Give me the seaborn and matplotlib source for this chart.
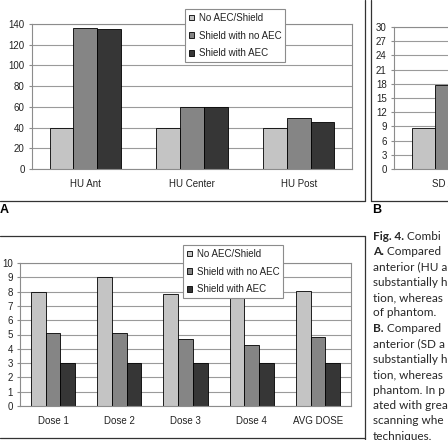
import matplotlib
matplotlib.use("Agg")
import numpy as np
import pandas as pd
import matplotlib.pyplot as plt
import matplotlib.patches as mpatches
from matplotlib.lines import Line2D
import seaborn as sns

# ---------------- data ----------------
series = ["No AEC/Shield", "Shield with no AEC", "Shield with AEC"]
bar_colors = ["#c4c4c4", "#858585", "#363636"]

hu_categories = ["HU Ant", "HU Center", "HU Post"]
hu_no_shield = [40, 40, 40]
hu_shield_no_aec = [136, 60, 49]
hu_shield_aec = [135, 60, 45.5]

sd_categories = ["SD Ant"]
sd_no_shield = [8.6]
sd_shield_no_aec = [17.8]
sd_shield_aec = [16.5]

dose_categories = ["Dose 1", "Dose 2", "Dose 3", "Dose 4", "AVG DOSE"]
dose_no_shield = [8.0, 9.05, 7.82, 7.63, 8.05]
dose_shield_no_aec = [5.13, 5.13, 4.71, 4.3, 4.8]
dose_shield_aec = [3.0, 3.0, 3.0, 3.03, 3.0]

caption_lines = [
    ("Fig. 4.", " Combi"),
    ("A.", " Compared"),
    ("", "anterior (HU a"),
    ("", "substantially h"),
    ("", "tion, whereas"),
    ("", "of phantom."),
    ("B.", " Compared"),
    ("", "anterior (SD a"),
    ("", "substantially h"),
    ("", "tion, whereas"),
    ("", "phantom. In p"),
    ("", "ated with grea"),
    ("", "scanning whe"),
    ("", "techniques."),
]

# ---------------- style ----------------
sns.set_theme(style="white")
plt.rcParams["font.family"] = ["Liberation Sans", "DejaVu Sans"]
plt.rcParams["font.size"] = 7
plt.rcParams["xtick.labelsize"] = 7
plt.rcParams["ytick.labelsize"] = 7
plt.rcParams["legend.fontsize"] = 7

W, H = 448, 440
GRAY = "#8c8c8c"
TXT = "#222222"


def px_rect(left, top, right, bottom):
    return [left / W, 1 - bottom / H, (right - left) / W, (bottom - top) / H]


def long_frame(cats, a, b, c):
    rows = []
    for name, vals in zip(series, [a, b, c]):
        for cat, v in zip(cats, vals):
            rows.append({"cat": cat, "series": name, "value": v})
    return pd.DataFrame(rows)


def draw_panel(ax, cats, a, b, c, ymax, step, nslots):
    df = long_frame(cats, a, b, c)
    sns.barplot(data=df, x="cat", y="value", hue="series", hue_order=series,
                palette=bar_colors, width=0.667, gap=0, saturation=1,
                edgecolor="black", linewidth=0.6, errorbar=None,
                legend=False, ax=ax)
    ax.set_xlim(-0.5, nslots - 0.5)
    ax.set_ylim(0, ymax)
    ax.set_yticks(np.arange(0, ymax + 0.1, step))
    ax.set_xticks(np.arange(-0.5, nslots, 1.0), minor=True)
    ax.yaxis.grid(True, color="#9a9a9a", linewidth=0.8)
    ax.set_axisbelow(True)
    ax.set_xlabel("")
    ax.set_ylabel("")
    ax.tick_params(axis="x", which="major", length=0, pad=7, labelcolor=TXT,
                   labelsize=7)
    ax.tick_params(axis="x", which="minor", length=2.5, color=GRAY, width=0.8)
    ax.tick_params(axis="y", length=2.2, color=GRAY, width=0.8, pad=3,
                   labelcolor=TXT, labelsize=7)
    ax.tick_params(left=True, bottom=True)
    for sp in ax.spines.values():
        sp.set_color(GRAY)
        sp.set_linewidth(0.8)


fig = plt.figure(figsize=(W / 100, H / 100), dpi=100)

# Panel A
ax_a = fig.add_axes(px_rect(32, 24, 352, 169))
draw_panel(ax_a, hu_categories, hu_no_shield, hu_shield_no_aec, hu_shield_aec,
           140, 20, 3)

# Panel B (runs off the right edge of the page)
ax_b = fig.add_axes(px_rect(394, 27, 714, 169))
draw_panel(ax_b, sd_categories, sd_no_shield, sd_shield_no_aec, sd_shield_aec,
           30, 3, 3)

# Panel C
ax_c = fig.add_axes(px_rect(20, 263, 351, 406))
draw_panel(ax_c, dose_categories, dose_no_shield, dose_shield_no_aec,
           dose_shield_aec, 10, 1, 5)

# Legends
handles = [mpatches.Patch(facecolor=c, edgecolor="black", linewidth=0.6)
           for c in bar_colors]
for ax, (lx, ly) in [(ax_a, (185, 9)), (ax_c, (183, 245))]:
    leg = ax.legend(handles, series, loc="upper left",
                    bbox_to_anchor=(lx / W, 1 - ly / H),
                    bbox_transform=fig.transFigure, fontsize=7,
                    handlelength=0.55, handleheight=0.55, handletextpad=0.45,
                    borderpad=0.4, labelspacing=0.8, borderaxespad=0,
                    fancybox=False, framealpha=1, edgecolor=GRAY)
    leg.get_frame().set_linewidth(0.8)
    for t in leg.get_texts():
        t.set_color(TXT)

# Panel frames
def hline(y, x0, x1):
    fig.add_artist(Line2D([x0 / W, x1 / W], [1 - y / H, 1 - y / H],
                          transform=fig.transFigure, color="#333333", lw=0.9))


def vline(x, y0, y1):
    fig.add_artist(Line2D([x / W, x / W], [1 - y0 / H, 1 - y1 / H],
                          transform=fig.transFigure, color="#333333", lw=0.9))


hline(201, 0, 365)
vline(365, 0, 201)
vline(371, 0, 201)
hline(201, 371, 448)
hline(236, 0, 365)
vline(365, 236, 440)
hline(438, 0, 365)

fig.text(0 / W, 1 - 210 / H, "A", fontsize=9, fontweight="bold", va="center",
         ha="left", color="black")
fig.text(372 / W, 1 - 210 / H, "B", fontsize=9, fontweight="bold",
         va="center", ha="left", color="black")

# Caption
cap = fig.add_axes([0, 0, 1, 1])
cap.set_xlim(0, 1)
cap.set_ylim(0, 1)
cap.axis("off")
for i, (bold, rest) in enumerate(caption_lines):
    y = 1 - (236 + i * 15.4) / H
    x = 373 / W
    if bold:
        t = cap.text(x, y, bold, family=["Lato", "DejaVu Sans"],
                     fontweight="bold", fontsize=8.5, va="center", ha="left")
        cap.annotate(rest, xy=(1, 0.5), xycoords=t, va="center", ha="left",
                     family=["Lato", "DejaVu Sans"], fontsize=8.5)
    else:
        cap.text(x, y, rest, family=["Lato", "DejaVu Sans"], fontsize=8.5,
                 va="center", ha="left")

fig.savefig("out.png", dpi=100)
